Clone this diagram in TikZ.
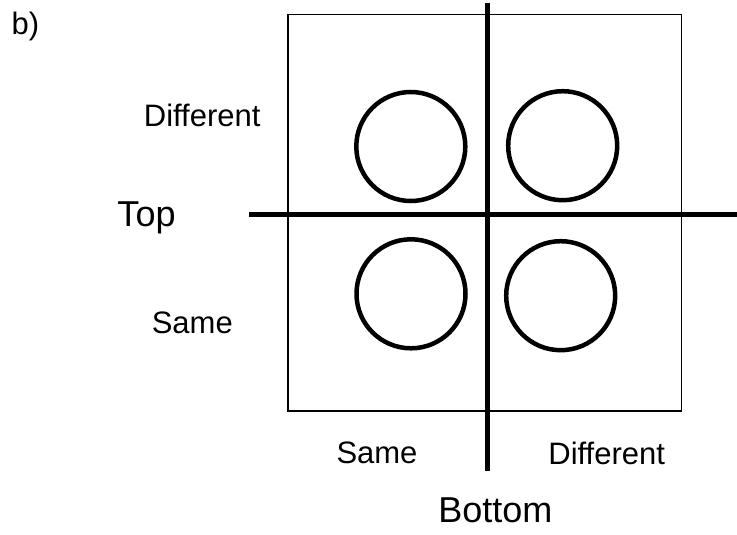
\documentclass[tikz,border=0pt]{standalone}
\usepackage{fontspec}
\setmainfont{Liberation Sans}
\usetikzlibrary{positioning}

\begin{document}
\begin{tikzpicture}[
    x = 1pt, y = -1pt,
    frame/.style = {
      rectangle, draw, line width = 1.6pt,
      minimum width = 393.6pt, minimum height = 396.5pt,
      inner sep = 0pt
    },
    ring/.style = {
      circle, draw, line width = 4.5pt,
      minimum size = 109pt, inner sep = 0pt
    },
    axis/.style = {line width = 4.8pt},
    lbl/.style = {
      inner sep = 0pt, anchor = base,
      font = \fontsize{31}{37}\selectfont
    },
    biglbl/.style = {
      inner sep = 0pt, anchor = base,
      font = \fontsize{36}{43}\selectfont
    }
  ]
  \useasboundingbox (0,0) rectangle (737,535);

  % ---- Marco y circulos ----
  \node[frame] (grid) at (484.5,212.75) {};
  \node[ring] (tl) at (410.8,146.5) {};
  \node[ring] (tr) at (562.7,145.7) {};
  \node[ring] (bl) at (411.0,293.8) {};
  \node[ring] (br) at (560.7,295.7) {};

  % ---- Ejes ----
  \coordinate (vtop) at (487.7,3);
  \coordinate (vbot) at (487.7,470.7);
  \coordinate (hleft) at (249,214.3);
  \coordinate (hright) at (737,214.3);
  \draw[axis] (vtop) -- (vbot);
  \draw[axis] (hleft) -- (hright);

  % ---- Textos ----
  \node[lbl, anchor = base west] (tag) at (11.5,34.5) {b)};
  \node[lbl] (ldiff) at (202.2,126.7) {Different};
  \node[biglbl] (top) at (146.5,226.7) {Top};
  \node[lbl] (lsame) at (192.3,333.3) {Same};
  \node[lbl] (bsame) at (377.0,463.3) {Same};
  \node[lbl] (bdiff) at (606.7,464.5) {Different};
  \node[biglbl] (bottom) at (495.3,522.7) {Bottom};

\end{tikzpicture}
\end{document}
